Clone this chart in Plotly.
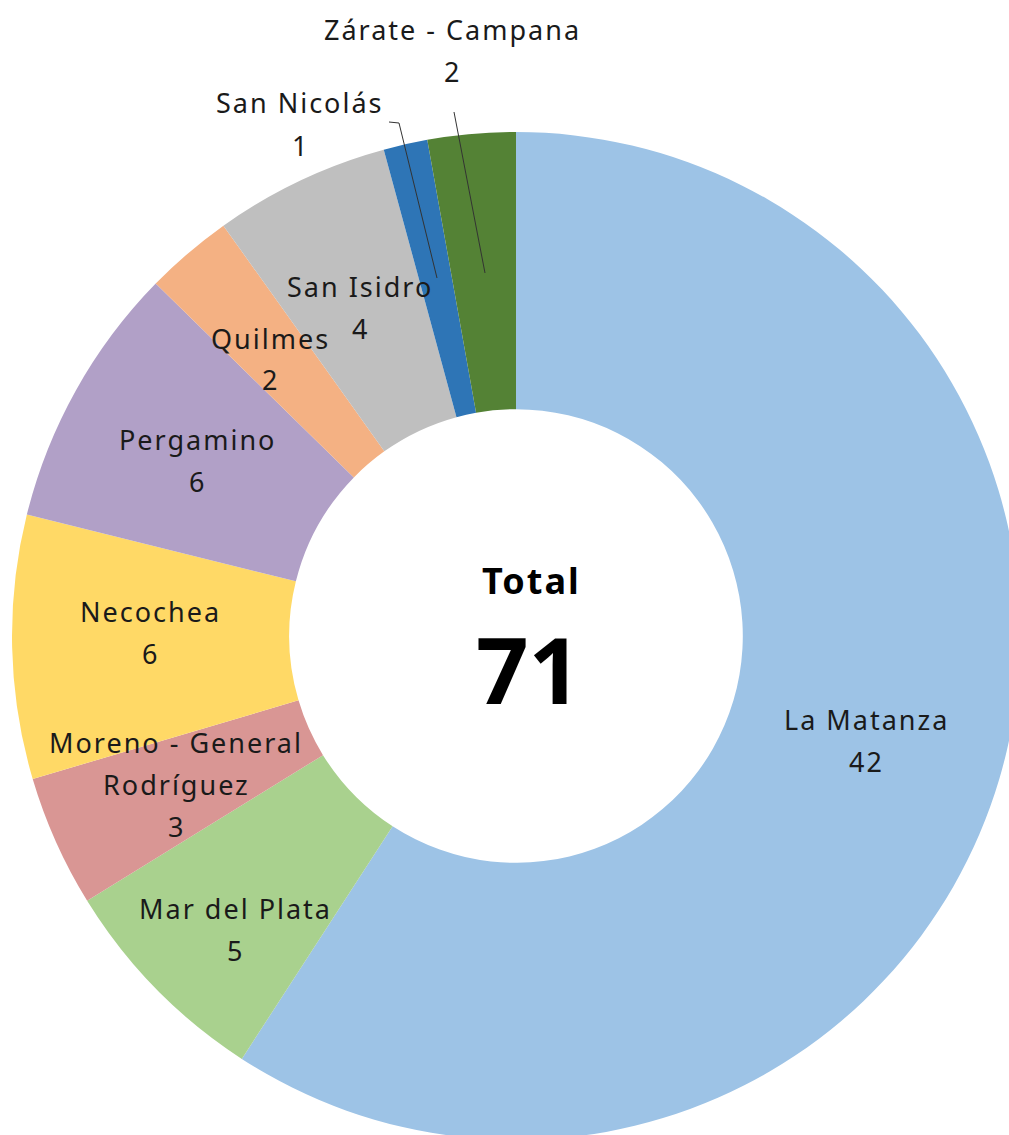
import plotly.graph_objects as go

# ---- data ----
categories = ["La Matanza", "Mar del Plata", "Moreno - General Rodríguez", "Necochea",
              "Pergamino", "Quilmes", "San Isidro", "San Nicolás", "Zárate - Campana"]
values = [42, 5, 3, 6, 6, 2, 4, 1, 2]
label_lines = [["La Matanza"], ["Mar del Plata"], ["Moreno - General", "Rodríguez"], ["Necochea"],
               ["Pergamino"], ["Quilmes"], ["San Isidro"], ["San Nicolás"], ["Zárate - Campana"]]
colors = ["#9DC3E6", "#A9D18E", "#D99694", "#FFD966", "#B1A0C7",
          "#F4B183", "#BFBFBF", "#2E75B6", "#548235"]
total = sum(values)

# ---- layout geometry (pixels) ----
W, H = 1020, 1140
label_pos = [(866, 719), (235, 908), (176, 742), (150, 611), (197, 439),
             (270, 338), (360, 286), (300, 103), (452, 30)]
line_gap = 42
FONT = "Noto Sans"


def px(x):
    return x / W


def py(y):
    return 1 - y / H


fig = go.Figure(go.Pie(
    labels=categories, values=values, sort=False, direction="clockwise", rotation=0,
    hole=0.45, marker=dict(colors=colors, line=dict(width=0)),
    textinfo="none", hoverinfo="label+value",
    domain=dict(x=[12 / W, 1], y=[0, 1 - 132 / H]),
    showlegend=False,
))

annotations = []
for lines, v, (x0, y0) in zip(label_lines, values, label_pos):
    for i, t in enumerate(lines + [str(v)]):
        annotations.append(dict(
            x=px(x0), y=py(y0 + i * line_gap), xref="paper", yref="paper",
            text=t, showarrow=False, xanchor="center", yanchor="middle",
            font=dict(family=FONT, size=27, color="#1a1a1a")))

annotations.append(dict(x=px(531), y=py(580), xref="paper", yref="paper", text="<b>Total</b>",
                        showarrow=False, xanchor="center", yanchor="middle",
                        font=dict(family=FONT, size=36, color="#000000")))
annotations.append(dict(x=px(528), y=py(668), xref="paper", yref="paper", text=f"<b>{total}</b>",
                        showarrow=False, xanchor="center", yanchor="middle",
                        font=dict(family=FONT, size=92, color="#000000")))

shapes = [
    dict(type="path", xref="paper", yref="paper",
         path=f"M {px(389)},{py(122)} L {px(399)},{py(123)} L {px(437)},{py(278)}",
         line=dict(color="#333333", width=1)),
    dict(type="path", xref="paper", yref="paper",
         path=f"M {px(454)},{py(112)} L {px(485)},{py(273)}",
         line=dict(color="#333333", width=1)),
]

fig.update_layout(
    width=W, height=H, margin=dict(l=0, r=0, t=0, b=0),
    paper_bgcolor="white", plot_bgcolor="white",
    annotations=annotations, shapes=shapes,
)

fig.write_html("out.html", config={"displayModeBar": False}, post_script=(
    "document.body.style.margin='0';"
    "document.body.style.overflow='hidden';"
    "document.documentElement.style.overflow='hidden';"
    "document.querySelectorAll('text.annotation-text').forEach(function(t){"
    "  var fs = t.style.fontSize;"
    "  if (fs === '27px') { t.style.letterSpacing = '2px'; }"
    "  else if (fs === '36px') { t.style.letterSpacing = '2px'; }"
    "});"))
